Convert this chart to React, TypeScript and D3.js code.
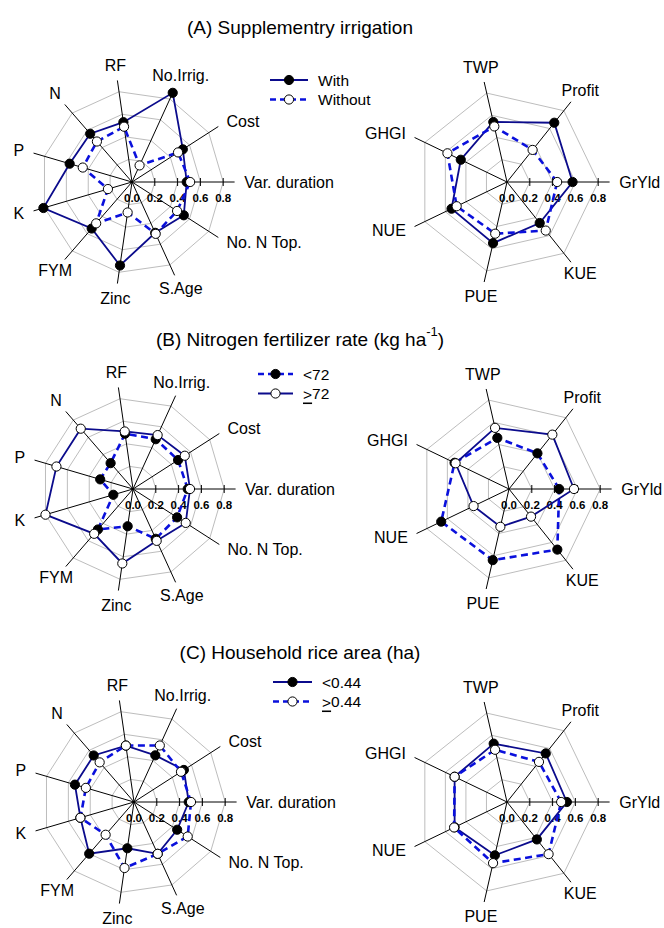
import React from 'react';
import * as d3 from 'd3';

// axis names
const leftAxes = ['Var. duration', 'Cost', 'No.Irrig.', 'RF', 'N', 'P', 'K', 'FYM', 'Zinc', 'S.Age', 'No. N Top.'];
const rightAxes = ['GrYld', 'Profit', 'TWP', 'GHGI', 'NUE', 'PUE', 'KUE'];
const tickValues = [0, 0.2, 0.4, 0.6, 0.8];
const tickLabels = ['0.0', '0.2', '0.4', '0.6', '0.8'];
const gridLevels = [0.2, 0.4, 0.6, 0.8];

// (A) Supplementry irrigation
const withLeft = [0.48, 0.53, 0.86, 0.53, 0.56, 0.57, 0.81, 0.54, 0.74, 0.49, 0.54];
const withoutLeft = [0.51, 0.48, 0.16, 0.49, 0.47, 0.45, 0.22, 0.48, 0.27, 0.5, 0.47];
const withRight = [0.575, 0.665, 0.54, 0.45, 0.54, 0.55, 0.46];
const withoutRight = [0.44, 0.36, 0.5, 0.58, 0.49, 0.465, 0.545];

// (B) Nitrogen fertilizer rate
const below72Left = [0.48, 0.47, 0.48, 0.49, 0.3, 0.3, 0.18, 0.47, 0.33, 0.48, 0.46];
const above72Left = [0.5, 0.54, 0.52, 0.51, 0.7, 0.7, 0.8, 0.52, 0.66, 0.5, 0.55];
const below72Right = [0.44, 0.4, 0.46, 0.53, 0.66, 0.64, 0.68];
const above72Right = [0.57, 0.61, 0.55, 0.52, 0.345, 0.34, 0.31];

// (C) Household rice area
const smallLeft = [0.48, 0.52, 0.45, 0.5, 0.54, 0.54, 0.49, 0.6, 0.41, 0.5, 0.45];
const largeLeft = [0.5, 0.49, 0.545, 0.5, 0.46, 0.44, 0.49, 0.38, 0.585, 0.5, 0.56];
const smallRight = [0.525, 0.545, 0.525, 0.51, 0.51, 0.48, 0.42];
const largeRight = [0.475, 0.45, 0.47, 0.51, 0.515, 0.55, 0.585];

const SOLID = '#0b0b8c';
const DASHED = '#0a10dc';
const FONT = '"Liberation Sans", Arial, Helvetica, sans-serif';

type Series = { name: string; left: number[]; right: number[]; dashed: boolean; filled: boolean };

interface Row {
  title: React.ReactNode;
  titleY: number;
  cy: number;
  leftX: number;
  rightX: number;
  legend: { x1: number; x2: number; y: number };
  series: Series[];
}

const rows: Row[] = [
  {
    title: '(A) Supplementry irrigation',
    titleY: 27,
    cy: 182,
    leftX: 132,
    rightX: 507,
    legend: { x1: 270, x2: 308, y: 80 },
    series: [
      { name: 'With', left: withLeft, right: withRight, dashed: false, filled: true },
      { name: 'Without', left: withoutLeft, right: withoutRight, dashed: true, filled: false },
    ],
  },
  {
    title: (
      <>
        (B) Nitrogen fertilizer rate (kg ha
        <tspan dy={-8} fontSize={13}>-1</tspan>
        <tspan dy={8}>)</tspan>
      </>
    ),
    titleY: 339,
    cy: 489,
    leftX: 133,
    rightX: 509,
    legend: { x1: 258, x2: 293, y: 374 },
    series: [
      { name: '<72', left: below72Left, right: below72Right, dashed: true, filled: true },
      { name: '≥72', left: above72Left, right: above72Right, dashed: false, filled: false },
    ],
  },
  {
    title: '(C) Household rice area (ha)',
    titleY: 652,
    cy: 802,
    leftX: 134,
    rightX: 507,
    legend: { x1: 273, x2: 312, y: 682 },
    series: [
      { name: '<0.44', left: smallLeft, right: smallRight, dashed: false, filled: true },
      { name: '≥0.44', left: largeLeft, right: largeRight, dashed: true, filled: false },
    ],
  },
];

const r = d3.scaleLinear().domain([0, 1]).range([0, 114]);

const LegendLabel: React.FC<{ name: string }> = ({ name }) => {
  if (name.startsWith('≥')) {
    return (
      <>
        <tspan textDecoration="underline">&gt;</tspan>
        {name.slice(1)}
      </>
    );
  }
  return <>{name}</>;
};

const Radar: React.FC<{ cx: number; cy: number; axes: string[]; series: Series[]; side: 'left' | 'right' }> = ({
  cx,
  cy,
  axes,
  series,
  side,
}) => {
  const n = axes.length;
  const ang = (i: number) => (i * 2 * Math.PI) / n;
  const pt = (v: number, i: number): [number, number] => [cx + r(v) * Math.cos(ang(i)), cy - r(v) * Math.sin(ang(i))];
  const poly = d3.line<[number, number]>().curve(d3.curveLinearClosed);

  return (
    <g>
      {gridLevels.map((lv) => (
        <path key={lv} d={poly(axes.map((_, i) => pt(lv, i))) || ''} fill="none" stroke="#bdbdbd" strokeWidth={1} />
      ))}
      {axes.map((a, i) => {
        const [x, y] = pt(0.9, i);
        return <line key={a} x1={cx} y1={cy} x2={x} y2={y} stroke="#000" strokeWidth={1} />;
      })}
      {tickValues.slice(1).map((t) => (
        <line key={t} x1={cx + r(t)} x2={cx + r(t)} y1={cy - 4} y2={cy + 4} stroke="#000" strokeWidth={1} />
      ))}
      {tickValues.map((t, i) => (
        <text key={t} x={cx + r(t)} y={cy + 20} textAnchor="middle" fontSize={11.5} fontWeight="bold" fontFamily={FONT}>
          {tickLabels[i]}
        </text>
      ))}
      {axes.map((a, i) => {
        const c = Math.cos(ang(i));
        const anchor = c > 0.8 ? 'start' : c < -0.8 ? 'end' : 'middle';
        const rl = anchor === 'middle' ? 1.03 : 0.985;
        const [x, y] = pt(rl, i);
        return (
          <text key={a} x={x} y={y} textAnchor={anchor} dominantBaseline="central" fontSize={16} fontFamily={FONT}>
            {a}
          </text>
        );
      })}
      {series.map((s) => {
        const vals = side === 'left' ? s.left : s.right;
        const pts = vals.map((v, i) => pt(v, i));
        return (
          <g key={s.name}>
            <path
              d={poly(pts) || ''}
              fill="none"
              stroke={s.dashed ? DASHED : SOLID}
              strokeWidth={s.dashed ? 2.6 : 1.8}
              strokeDasharray={s.dashed ? '7,4.5' : undefined}
            />
            {pts.map(([x, y], i) => (
              <circle key={i} cx={x} cy={y} r={4.6} fill={s.filled ? '#000' : '#fff'} stroke="#000" strokeWidth={1} />
            ))}
          </g>
        );
      })}
    </g>
  );
};

export default function App() {
  return (
    <svg
      width={664}
      height={928}
      style={{ position: 'absolute', left: 0, top: 0, background: '#fff' }}
      fontFamily={FONT}
    >
      <rect width={664} height={928} fill="#fff" />
      {rows.map((row, ri) => (
        <g key={ri}>
          <text x={300} y={row.titleY} textAnchor="middle" dominantBaseline="central" fontSize={19}>
            {row.title}
          </text>
          <Radar cx={row.leftX} cy={row.cy} axes={leftAxes} series={row.series} side="left" />
          <Radar cx={row.rightX} cy={row.cy} axes={rightAxes} series={row.series} side="right" />
          {row.series.map((s, si) => {
            const y = row.legend.y + si * 19.5;
            const { x1, x2 } = row.legend;
            return (
              <g key={s.name}>
                <line
                  x1={x1}
                  x2={x2}
                  y1={y}
                  y2={y}
                  stroke={s.dashed ? DASHED : SOLID}
                  strokeWidth={s.dashed ? 2.6 : 1.8}
                  strokeDasharray={s.dashed ? '6,4' : undefined}
                />
                <circle cx={(x1 + x2) / 2} cy={y} r={4.6} fill={s.filled ? '#000' : '#fff'} stroke="#000" />
                <text x={x2 + 10} y={y} dominantBaseline="central" fontSize={15.5}>
                  <LegendLabel name={s.name} />
                </text>
              </g>
            );
          })}
        </g>
      ))}
    </svg>
  );
}
